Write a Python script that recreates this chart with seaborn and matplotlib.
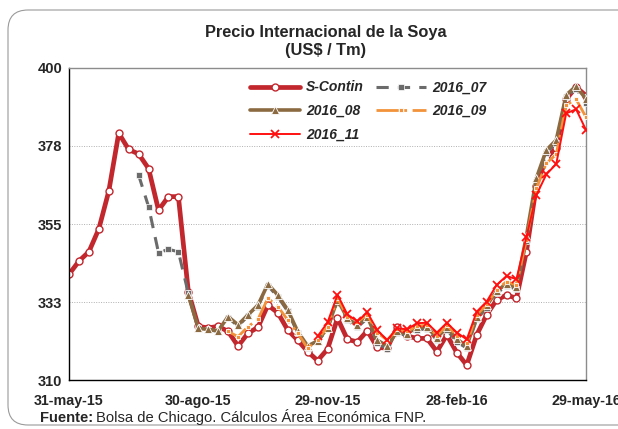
import numpy as np
import pandas as pd
import matplotlib
matplotlib.use("Agg")
import matplotlib.pyplot as plt
from matplotlib.patches import FancyBboxPatch
import seaborn as sns

sns.set_theme(style="white")
plt.rcParams["font.family"] = ["Liberation Sans", "DejaVu Sans"]

# ---- data: weekly prices, 31-may-15 .. 29-may-16 ----
weeks = pd.date_range("2015-05-31", "2016-05-29", freq="7D")
nan = np.nan

s_contin = [340.5, 344.3, 347.0, 353.6, 364.5, 381.2, 376.5, 375.2, 371.0, 359.0,
            362.9, 362.9, 335.5, 325.5, 325.0, 325.5, 324.0, 319.8, 323.5, 325.2,
            331.6, 329.4, 324.4, 321.5, 318.2, 315.6, 318.9, 327.8, 321.7, 321.0,
            324.2, 319.4, 319.2, 325.2, 322.7, 322.0, 322.0, 318.2, 323.0, 317.9,
            314.3, 323.0, 328.8, 333.1, 334.5, 333.6, 347.0, 366.0, 374.0, 377.0,
            391.0, 394.5, 392.0]

c_2016_07 = [nan, nan, nan, nan, nan, nan, nan, 369.1, 360.0, 346.7,
             347.7, 347.0, 335.0, 325.0, 324.5, 324.0, 328.0, 325.5, 328.5, 331.2,
             337.2, 334.0, 329.8, 323.5, 319.3, 321.0, 324.7, 332.8, 327.2, 325.2,
             327.8, 320.6, 319.0, 323.5, 322.8, 324.5, 324.7, 321.5, 324.5, 321.0,
             319.2, 327.5, 330.8, 335.0, 337.2, 336.2, 350.0, 367.0, 375.5, 378.5,
             391.5, 394.0, 390.0]

c_2016_08 = [nan, nan, nan, nan, nan, nan, nan, nan, nan, nan,
             nan, nan, 334.5, 324.9, 324.6, 324.2, 328.3, 325.9, 328.8, 331.6,
             337.7, 334.5, 330.2, 324.0, 319.8, 321.3, 325.0, 333.2, 327.8, 325.8,
             328.3, 321.5, 319.8, 324.0, 323.4, 325.2, 325.3, 322.2, 325.2, 321.8,
             319.8, 328.2, 331.5, 335.6, 337.8, 336.8, 351.5, 368.2, 376.3, 379.2,
             392.2, 394.8, 391.0]

c_2016_09 = [nan, nan, nan, nan, nan, nan, nan, nan, nan, nan,
             nan, nan, nan, nan, nan, nan, 324.0, 322.5, 325.4, 327.5,
             333.6, 331.2, 327.3, 323.5, 319.2, 321.5, 325.4, 333.6, 328.3, 326.8,
             328.8, 323.7, 321.5, 324.6, 324.0, 325.6, 325.8, 322.8, 325.8, 322.8,
             320.6, 328.8, 331.8, 336.0, 338.4, 337.4, 350.5, 365.3, 372.5, 375.1,
             389.3, 391.0, 385.8]

c_2016_11 = [nan, nan, nan, nan, nan, nan, nan, nan, nan, nan,
             nan, nan, nan, nan, nan, nan, nan, nan, nan, nan,
             nan, nan, nan, nan, nan, 322.6, 326.6, 334.6, 328.9, 326.9,
             329.5, 324.4, 321.5, 325.0, 324.6, 326.4, 326.5, 323.7, 326.5, 323.7,
             321.7, 329.7, 332.6, 337.4, 340.0, 339.1, 351.3, 363.3, 369.3, 372.3,
             386.9, 388.1, 382.1]

y_ticks = [310, 332.5, 355, 377.5, 400]
y_labels = ["310", "333", "355", "378", "400"]
x_ticks = ["2015-05-31", "2015-08-30", "2015-11-29", "2016-02-28", "2016-05-29"]
x_labels = ["31-may-15", "30-ago-15", "29-nov-15", "28-feb-16", "29-may-16"]

fig = plt.figure(figsize=(6.18, 4.29), dpi=100)
ax = fig.add_axes([0.1117, 0.1142, 0.8366, 0.7273])

# rounded frame around the whole chart
frame = FancyBboxPatch((0.08, 0.04), 6.5, 4.15, boxstyle="round,pad=0,rounding_size=0.2",
                       transform=fig.dpi_scale_trans, fill=False, edgecolor="#9a9a9a",
                       linewidth=0.8, clip_on=False)
fig.patches.append(frame)

sns.lineplot(x=weeks, y=s_contin, ax=ax, color="#C1272D", linewidth=3.4,
             marker="o", markersize=5, markerfacecolor="white",
             markeredgecolor="#C1272D", markeredgewidth=1.0, label="S-Contin", zorder=2)
sns.lineplot(x=weeks, y=c_2016_07, ax=ax, color="#6b6b6b", linewidth=2.2,
             linestyle=(0, (4, 3)), marker="s", markersize=4, markerfacecolor="#6b6b6b",
             markeredgecolor="white", markeredgewidth=0.5, label="2016_07", zorder=3)
sns.lineplot(x=weeks, y=c_2016_08, ax=ax, color="#8B6A42", linewidth=2.6,
             marker="^", markersize=6, markerfacecolor="#8B6A42",
             markeredgecolor="white", markeredgewidth=0.6, label="2016_08", zorder=4)
sns.lineplot(x=weeks, y=c_2016_09, ax=ax, color="#F2923A", linewidth=2.0,
             linestyle=(0, (8, 2, 1, 2)), marker="s", markersize=3.5, markerfacecolor="#F2923A",
             markeredgecolor="white", markeredgewidth=0.6, label="2016_09", zorder=5)
sns.lineplot(x=weeks, y=c_2016_11, ax=ax, color="#FF1010", linewidth=1.4,
             marker="x", markersize=5.5, markeredgewidth=1.3, markeredgecolor="#FF1010",
             label="2016_11", zorder=6)

ax.set_ylim(310, 400)
ax.set_xlim(pd.Timestamp("2015-05-31"), pd.Timestamp("2016-05-29"))
ax.set_yticks(y_ticks)
ax.set_yticklabels(y_labels, fontsize=10.5, fontweight="bold")
ax.set_xticks(pd.to_datetime(x_ticks))
ax.set_xticklabels(x_labels, fontsize=10.3, fontweight="bold")
ax.tick_params(axis="x", length=4, width=0.9, color="black", direction="out", pad=6)
ax.tick_params(axis="y", length=4, width=0.9, color="black", direction="in", pad=5)
ax.set_xlabel("")
ax.set_ylabel("")

for yv in y_ticks[1:-1]:
    ax.axhline(yv, color="#b0b0b0", linewidth=0.7, linestyle=(0, (1, 1.5)), zorder=0)

ax.spines["left"].set_color("black")
ax.spines["bottom"].set_color("black")
ax.spines["top"].set_color("#8c8c8c")
ax.spines["right"].set_color("#8c8c8c")
for s in ax.spines.values():
    s.set_linewidth(1.0)

# legend, row by row
h, l = ax.get_legend_handles_labels()
order = [0, 2, 4, 1, 3]
leg = ax.legend([h[i] for i in order], [l[i] for i in order], ncol=2,
                loc="upper left", bbox_to_anchor=(0.325, 1.0), frameon=False,
                handlelength=3.6, handletextpad=0.45, columnspacing=0.9, labelspacing=0.7,
                prop={"weight": "bold", "style": "italic", "size": 10})

fig.text(0.527, 0.925, "Precio Internacional de la Soya", ha="center", va="center",
         fontsize=11.8, fontweight="bold")
fig.text(0.527, 0.882, "(US$ / Tm)", ha="center", va="center",
         fontsize=11.8, fontweight="bold")

t1 = fig.text(0.064, 0.01, "Fuente:", fontsize=10.6, fontweight="bold", va="bottom")
fig.canvas.draw()
bb = t1.get_window_extent()
fig.text(bb.x1 / fig.bbox.width + 0.006, 0.01,
         "Bolsa de Chicago. Cálculos Área Económica FNP.", fontsize=10.6, va="bottom")

fig.savefig("out.png", dpi=100)
